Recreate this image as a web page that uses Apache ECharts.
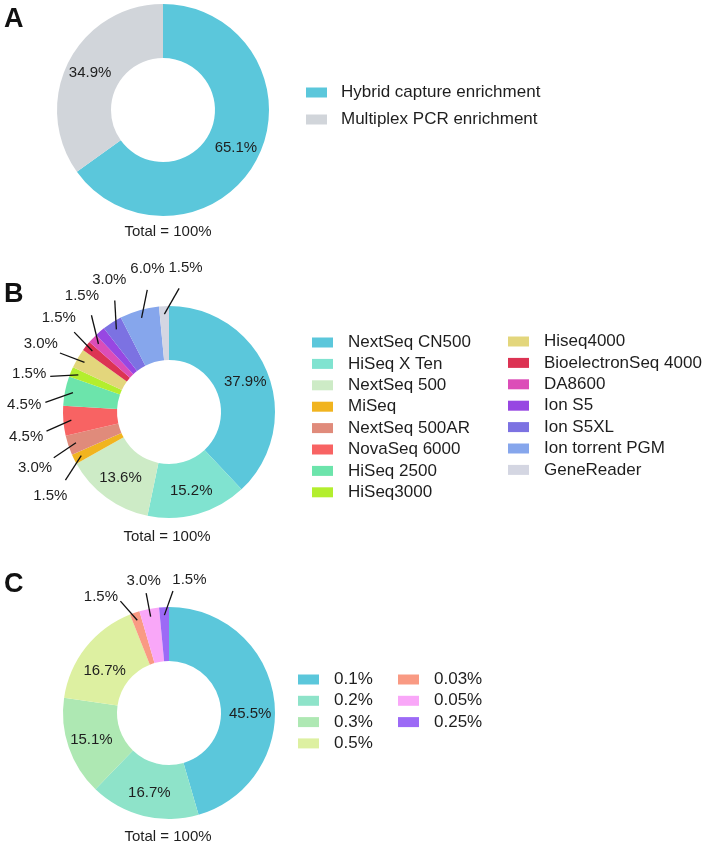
<!DOCTYPE html>
<html><head><meta charset="utf-8">
<script src="https://cdn.jsdelivr.net/npm/echarts@6/dist/echarts.min.js"></script>
<style>html,body{margin:0;padding:0;background:#fff}#c{width:709px;height:848px}</style>
</head><body><div id="c"></div>
<script>
// Panel A
var catsA = ['Hybrid capture enrichment', 'Multiplex PCR enrichment'];
var valsA = [65.1, 34.9];
var colorsA = ['#5BC7DB', '#D1D5DA'];
// Panel B
var catsB = ['NextSeq CN500', 'HiSeq X Ten', 'NextSeq 500', 'MiSeq', 'NextSeq 500AR', 'NovaSeq 6000', 'HiSeq 2500', 'HiSeq3000',
             'Hiseq4000', 'BioelectronSeq 4000', 'DA8600', 'Ion S5', 'Ion S5XL', 'Ion torrent PGM', 'GeneReader'];
var valsB = [37.9, 15.2, 13.6, 1.5, 3.0, 4.5, 4.5, 1.5, 3.0, 1.5, 1.5, 1.5, 3.0, 6.0, 1.5];
var colorsB = ['#5BC7DB', '#80E3D0', '#CDEBC6', '#F1B41F', '#E08B7B', '#F86363', '#6CE4AB', '#B3EE2E',
               '#E3D67C', '#DC3353', '#DC4DB8', '#9747E2', '#7C72E2', '#86A6EC', '#D4D6E2'];
var unlabeledB = ['Ion S5'];
// Panel C
var catsC = ['0.1%', '0.2%', '0.3%', '0.5%', '0.03%', '0.05%', '0.25%'];
var valsC = [45.5, 16.7, 15.1, 16.7, 1.5, 3.0, 1.5];
var colorsC = ['#5BC7DB', '#8EE3C9', '#AEE8B3', '#DDF0A1', '#F99A83', '#F9A7F8', '#9C6AF6'];
var panelLetters = ['A', 'B', 'C'];
var totalText = 'Total = 100%';

var FONT = '"Liberation Sans", Arial, Helvetica, sans-serif';
var TXT = '#1e1e1e';
var LABEL_SIZE = 15;
var INSIDE_MIN = 10; // slices at least this big get their label inside the ring
function fmtVal(v) { return v.toFixed(1) + '%'; }
function fmt(p) { return fmtVal(p.value); }

// geometry (layout only)
var R_IN = 52, R_OUT = 106;
var pies = [
  { center: [163, 110], cats: catsA, vals: valsA, colors: colorsA, hide: [], labelR: 145, lineOut: 124, minGap: 12, lineFrac: 0.8, nudge: {} },
  { center: [169, 412], cats: catsB, vals: valsB, colors: colorsB, hide: unlabeledB, labelR: 145, lineOut: 124, minGap: 12.6, lineFrac: 0.8, nudge: {} },
  { center: [169, 713], cats: catsC, vals: valsC, colors: colorsC, hide: [], labelR: 135, lineOut: 122, minGap: 19.5, lineFrac: 0.4,
    nudge: { '0.1%': [0, 12], '0.5%': [0, 9] } }
];

var measureCtx = document.createElement('canvas').getContext('2d');
measureCtx.font = LABEL_SIZE + 'px ' + FONT;

// outside-label placement from slice mid-angles, spreading crowded labels apart (angles clockwise from top)
function computeLabelLayout(p) {
  var total = p.vals.reduce(function (a, b) { return a + b; }, 0);
  var cum = 0, items = [];
  p.vals.forEach(function (v, i) {
    var mid = (cum + v / 2) / total * 360;
    cum += v;
    if (v >= INSIDE_MIN || p.hide.indexOf(p.cats[i]) >= 0) return;
    items.push({ idx: i, mid: mid, t: mid, w: measureCtx.measureText(fmtVal(v)).width });
  });
  items.sort(function (a, b) { return a.t - b.t; });
  var rl = p.labelR;
  for (var it = 0; it < 1500; it++) {
    for (var k = 0; k < items.length - 1; k++) {
      var a = items[k], b = items[k + 1], gap = b.t - a.t;
      var m = (a.t + b.t) / 2 * Math.PI / 180;
      var c = Math.abs(Math.cos(m)) + 1e-6, s = Math.abs(Math.sin(m)) + 1e-6;
      var boxNeed = Math.min(((a.w + b.w) / 2 + 4) / (rl * c), 15 / (rl * s)) * 180 / Math.PI;
      var need = Math.max(p.minGap, boxNeed);
      if (gap < need) { var d = (need - gap) / 2; a.t -= d; b.t += d; }
    }
  }
  var out = {};
  var cx = p.center[0], cy = p.center[1];
  function pt(deg, r) { var a = deg * Math.PI / 180; return [cx + r * Math.sin(a), cy - r * Math.cos(a)]; }
  items.forEach(function (o) {
    var lp = pt(o.t, rl);
    var q = pt(o.mid + p.lineFrac * (o.t - o.mid), p.lineOut);
    out[o.idx] = {
      x: lp[0], y: lp[1], align: 'center', verticalAlign: 'middle',
      labelLinePoints: [pt(o.mid, R_OUT - 8), q, q]
    };
  });
  return out;
}

var insideLabel = { show: true, position: 'inside', fontSize: LABEL_SIZE, color: TXT, fontFamily: FONT, formatter: fmt };
var outsideLabel = { show: true, position: 'outside', fontSize: LABEL_SIZE, color: TXT, fontFamily: FONT, formatter: fmt, overflow: 'none' };
var noLabel = { show: false };

function isOutside(p, i) { return p.vals[i] < INSIDE_MIN && p.hide.indexOf(p.cats[i]) < 0; }

// base rings: coloured slices + inside labels
function buildBase(p) {
  return p.cats.map(function (n, i) {
    var inside = p.vals[i] >= INSIDE_MIN && p.hide.indexOf(n) < 0;
    var lab = noLabel;
    if (inside) {
      lab = Object.assign({}, insideLabel);
      if (p.nudge[n]) lab.offset = p.nudge[n];
    }
    return { name: n, value: p.vals[i], itemStyle: { color: p.colors[i] }, label: lab, labelLine: { show: false } };
  });
}
// overlay rings (transparent, drawn above): outside labels with their leader lines
function buildOverlay(p) {
  return p.cats.map(function (n, i) {
    var o = isOutside(p, i);
    return { name: n, value: p.vals[i], itemStyle: { color: 'rgba(0,0,0,0)' },
             label: o ? outsideLabel : noLabel, labelLine: { show: o } };
  });
}

function legend(names, left, top, gap, textPad) {
  return {
    data: names, orient: 'vertical', left: left, top: top, padding: 0,
    itemWidth: 21, itemHeight: 10, itemGap: gap, icon: 'rect', selectedMode: false,
    textStyle: { fontSize: 17, lineHeight: 17, color: TXT, fontFamily: FONT, padding: [0, 0, 0, textPad] }
  };
}

var series = [];
pies.forEach(function (p) {
  series.push({
    type: 'pie', z: 2, center: p.center, radius: [R_IN, R_OUT], startAngle: 90, clockwise: true,
    avoidLabelOverlap: false, itemStyle: { borderWidth: 0 }, emphasis: { disabled: true }, silent: true,
    data: buildBase(p)
  });
});
pies.forEach(function (p) {
  var lay = computeLabelLayout(p);
  series.push({
    type: 'pie', z: 5, center: p.center, radius: [R_IN, R_OUT], startAngle: 90, clockwise: true,
    avoidLabelOverlap: false, itemStyle: { borderWidth: 0 }, emphasis: { disabled: true }, silent: true,
    labelLine: { show: true, showAbove: true, length: 20, length2: 0, lineStyle: { color: '#111', width: 1.3 } },
    labelLayout: function (params) { return lay[params.dataIndex]; },
    data: buildOverlay(p)
  });
});

var chart = echarts.init(document.getElementById('c'), null, { renderer: 'canvas' });
chart.setOption({
  animation: false,
  backgroundColor: '#fff',
  title: [
    { text: panelLetters[0], left: 4, top: 6 },
    { text: panelLetters[1], left: 4, top: 281 },
    { text: panelLetters[2], left: 4, top: 571 }
  ].map(function (t) { t.padding = 0; t.textStyle = { fontSize: 27, fontWeight: 'bold', color: '#111', fontFamily: FONT }; return t; }),
  legend: [
    legend(catsA, 306, 84, 10, 9),
    legend(catsB.slice(0, 8), 312, 334, 4.4, 10),
    legend(catsB.slice(8), 508, 333, 4.4, 10),
    legend(catsC.slice(0, 4), 298, 671, 4.3, 10),
    legend(catsC.slice(4), 398, 671, 4.3, 10)
  ],
  graphic: [
    { type: 'text', x: 168, y: 232, style: { text: totalText, fontSize: 15, fill: TXT, fontFamily: FONT, textAlign: 'center', textVerticalAlign: 'middle' } },
    { type: 'text', x: 167, y: 537, style: { text: totalText, fontSize: 15, fill: TXT, fontFamily: FONT, textAlign: 'center', textVerticalAlign: 'middle' } },
    { type: 'text', x: 168, y: 837, style: { text: totalText, fontSize: 15, fill: TXT, fontFamily: FONT, textAlign: 'center', textVerticalAlign: 'middle' } }
  ],
  series: series
});
</script></body></html>
